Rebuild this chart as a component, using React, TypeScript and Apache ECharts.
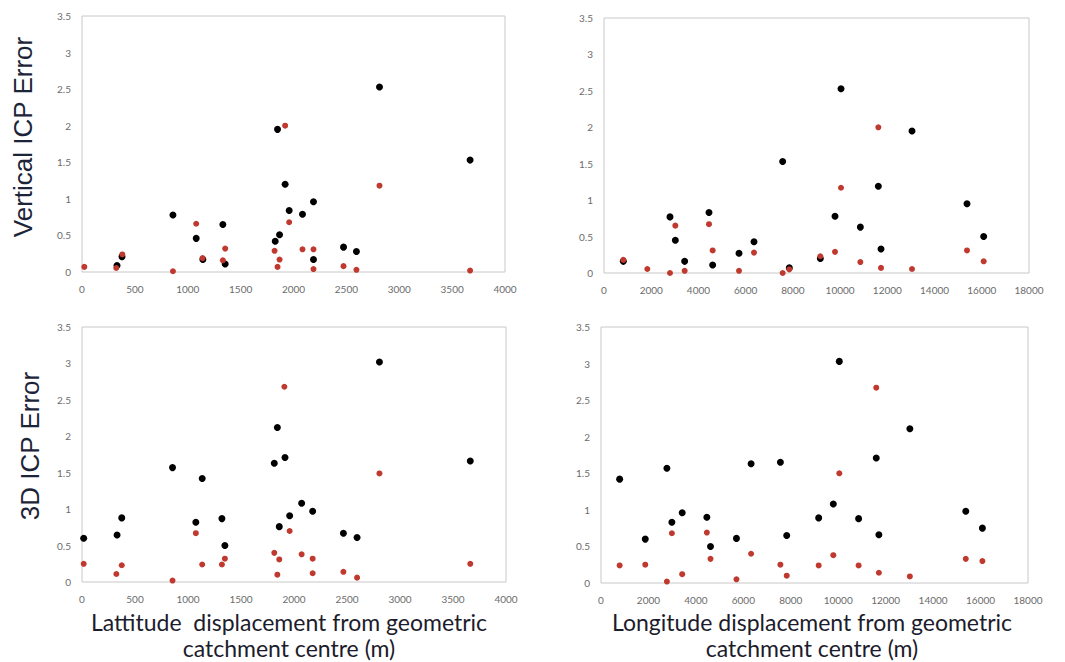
import React, { useEffect, useRef } from "react";
import * as echarts from "echarts";

// Vertical ICP error vs latitude displacement
const vertLatBlack: number[][] = [
  [331, 0.09], [378, 0.21], [860, 0.78], [1080, 0.46], [1332, 0.65], [1354, 0.11],
  [1143, 0.17], [1849, 1.95], [1827, 0.42], [1868, 0.51], [1921, 1.2], [1959, 0.84],
  [2085, 0.79], [2189, 0.96], [2189, 0.17], [2473, 0.34], [2595, 0.28], [2813, 2.53],
  [3670, 1.53],
];
const vertLatRed: number[][] = [
  [22, 0.07], [324, 0.055], [381, 0.24], [860, 0.01], [1080, 0.66], [1140, 0.19],
  [1332, 0.16], [1354, 0.32], [1821, 0.29], [1849, 0.07], [1868, 0.17], [1921, 2.0],
  [1959, 0.68], [2085, 0.31], [2189, 0.31], [2189, 0.04], [2473, 0.08], [2595, 0.03],
  [2813, 1.18], [3670, 0.02],
];

// Vertical ICP error vs longitude displacement
const vertLonBlack: number[][] = [
  [819, 0.16], [2795, 0.77], [3021, 0.45], [3416, 0.16], [4447, 0.83], [4602, 0.11],
  [5718, 0.27], [6353, 0.43], [7567, 1.53], [7849, 0.07], [9162, 0.2], [9784, 0.78],
  [10038, 2.53], [10857, 0.63], [11619, 1.19], [11732, 0.33], [13045, 1.95],
  [15374, 0.95], [16080, 0.5],
];
const vertLonRed: number[][] = [
  [819, 0.18], [1835, 0.055], [2795, 0.0], [3021, 0.65], [3416, 0.03], [4447, 0.67],
  [4602, 0.31], [5718, 0.03], [6353, 0.28], [7567, 0.0], [7849, 0.05], [9162, 0.23],
  [9784, 0.29], [10038, 1.17], [10857, 0.15], [11619, 2.0], [11732, 0.07],
  [13045, 0.055], [15374, 0.31], [16080, 0.16],
];

// 3D ICP error vs latitude displacement
const d3LatBlack: number[][] = [
  [16, 0.6], [331, 0.645], [375, 0.88], [854, 1.57], [1074, 0.82], [1134, 1.42],
  [1320, 0.87], [1348, 0.5], [1843, 2.12], [1814, 1.63], [1861, 0.76], [1915, 1.71],
  [1959, 0.91], [2072, 1.08], [2176, 0.97], [2466, 0.67], [2595, 0.61], [2806, 3.02],
  [3663, 1.66],
];
const d3LatRed: number[][] = [
  [16, 0.25], [324, 0.11], [375, 0.23], [854, 0.02], [1074, 0.67], [1134, 0.24],
  [1320, 0.24], [1348, 0.32], [1814, 0.4], [1843, 0.1], [1861, 0.31], [1909, 2.68],
  [1959, 0.7], [2072, 0.38], [2176, 0.32], [2176, 0.12], [2466, 0.14], [2595, 0.06],
  [2806, 1.49], [3663, 0.25],
];

// 3D ICP error vs longitude displacement
const d3LonBlack: number[][] = [
  [786, 1.42], [1866, 0.6], [2778, 1.57], [2988, 0.83], [3423, 0.96], [4462, 0.9],
  [4616, 0.5], [5710, 0.61], [6327, 1.63], [7562, 1.65], [7829, 0.65], [9176, 0.89],
  [9793, 1.08], [10045, 3.03], [10859, 0.88], [11603, 1.71], [11715, 0.66],
  [13020, 2.11], [15377, 0.98], [16078, 0.75],
];
const d3LonRed: number[][] = [
  [786, 0.24], [1866, 0.25], [2778, 0.02], [2988, 0.68], [3423, 0.12], [4462, 0.69],
  [4616, 0.33], [5710, 0.05], [6327, 0.4], [7562, 0.25], [7829, 0.1], [9176, 0.24],
  [9793, 0.38], [10045, 1.5], [10859, 0.24], [11603, 2.67], [11715, 0.14],
  [13020, 0.09], [15377, 0.33], [16078, 0.3],
];

const latAxis = { min: 0, max: 4000, interval: 500 };
const lonAxis = { min: 0, max: 18000, interval: 2000 };
const errAxis = { min: 0, max: 3.5, interval: 0.5 };

const yTitles = ["Vertical ICP Error", "3D ICP Error"];
const xTitleLines = [
  ["Lattitude  displacement from geometric", "catchment centre (m)"],
  ["Longitude displacement from geometric", "catchment centre (m)"],
];

const BLACK = "#000000";
const RED = "#c0392f";

export default function App() {
  const ref = useRef<HTMLDivElement>(null);
  useEffect(() => {
    if (!ref.current) return;
    const chart = echarts.init(ref.current, undefined, { renderer: "svg" });
    const grids = [
      { left: 82, top: 16, width: 423, height: 256 },
      { left: 604, top: 18, width: 425, height: 255 },
      { left: 82, top: 327, width: 424, height: 255 },
      { left: 601, top: 327, width: 427, height: 256 },
    ].map((g) => ({ ...g, show: true, borderColor: "#c8c8c8", borderWidth: 1, backgroundColor: "#fff" }));

    const labelStyle = { color: "#6b6b6b", fontSize: 10, fontFamily: "Lato, sans-serif" };
    const xRanges = [latAxis, lonAxis, latAxis, lonAxis];
    const xAxis = xRanges.map((r, i) => ({
      type: "value",
      gridIndex: i,
      ...r,
      axisLine: { show: false },
      axisTick: { show: false },
      splitLine: { show: false },
      axisLabel: { ...labelStyle, margin: 12, formatter: (v: number) => String(v) },
    }));
    const yAxis = [0, 1, 2, 3].map((i) => ({
      type: "value",
      gridIndex: i,
      ...errAxis,
      axisLine: { show: false },
      axisTick: { show: false },
      splitLine: { show: false },
      axisLabel: { ...labelStyle, margin: 11, formatter: (v: number) => String(v) },
    }));
    const sets = [
      [vertLatBlack, vertLatRed],
      [vertLonBlack, vertLonRed],
      [d3LatBlack, d3LatRed],
      [d3LonBlack, d3LonRed],
    ];
    const series: any[] = [];
    sets.forEach(([b, r], i) => {
      series.push({
        type: "scatter", xAxisIndex: i, yAxisIndex: i, data: b,
        symbolSize: 7, itemStyle: { color: BLACK, opacity: 1 },
      });
      series.push({
        type: "scatter", xAxisIndex: i, yAxisIndex: i, data: r,
        symbolSize: 6, itemStyle: { color: RED, opacity: 1 },
      });
    });

    const titleFont = "Lato, 'Open Sans', sans-serif";
    const xTitleCenters = [289, 812];
    const xTitleRows = [622, 648];
    const xTitleGraphics: any[] = [];
    xTitleLines.forEach((lines, i) => {
      lines.forEach((line, j) => {
        xTitleGraphics.push({
          type: "text", x: xTitleCenters[i], y: xTitleRows[j],
          style: {
            text: line, fill: "#1c1c2c", fontSize: 23,
            fontFamily: titleFont, align: "center", verticalAlign: "middle",
          },
        });
      });
    });

    chart.setOption({
      animation: false,
      backgroundColor: "#ffffff",
      grid: grids,
      xAxis,
      yAxis,
      series,
      graphic: [
        {
          type: "text", x: 23, y: 137, rotation: Math.PI / 2,
          style: {
            text: yTitles[0], fill: "#1c2438", fontSize: 26,
            fontFamily: "'Liberation Sans', Arial, sans-serif",
            align: "center", verticalAlign: "middle",
          },
        },
        {
          type: "text", x: 30, y: 446, rotation: Math.PI / 2,
          style: {
            text: yTitles[1], fill: "#1c2438", fontSize: 26,
            fontFamily: "'Liberation Sans', Arial, sans-serif",
            align: "center", verticalAlign: "middle",
          },
        },
        ...xTitleGraphics,
      ],
    });
    return () => chart.dispose();
  }, []);
  return (
    <div
      ref={ref}
      style={{ position: "fixed", left: 0, top: 0, width: 1065, height: 662, background: "#fff" }}
    />
  );
}
